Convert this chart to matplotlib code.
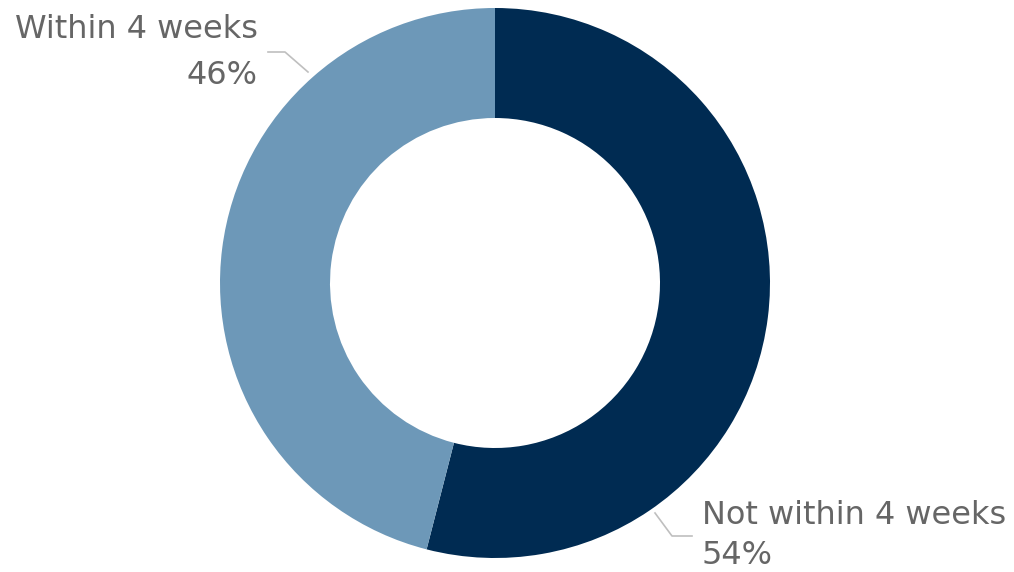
import matplotlib
matplotlib.use("Agg")
import matplotlib.pyplot as plt

categories = ["Not within 4 weeks", "Within 4 weeks"]
values = [54, 46]
colors = ["#002B52", "#6D98B8"]

W, H = 1014, 572
cx, cy, R = 495, 283, 275

fig = plt.figure(figsize=(W / 100, H / 100), dpi=100)
ax = fig.add_axes([0, 0, 1, 1])

ax.pie(values, colors=colors, startangle=90, counterclock=False,
       radius=1.0, wedgeprops=dict(width=0.4, linewidth=0))

ax.set_xlim(-cx / R, (W - cx) / R)
ax.set_ylim(-(H - cy) / R, cy / R)
ax.set_aspect("equal")
ax.axis("off")

def px(x, y):
    return (x - cx) / R, (cy - y) / R

txt_color = "#666666"
line_color = "#BFBFBF"
font = dict(family=["DejaVu Sans"], fontsize=23, color=txt_color)

# Within 4 weeks label (top-left)
ax.text(*px(258, 30), categories[1], ha="right", va="center", **font)
ax.text(*px(258, 75), f"{values[1]}%", ha="right", va="center", **font)
xs, ys = zip(px(268, 52), px(285, 52), px(308, 72))
ax.plot(xs, ys, color=line_color, lw=1.2)

# Not within 4 weeks label (bottom-right)
ax.text(*px(702, 516), categories[0], ha="left", va="center", **font)
ax.text(*px(702, 555), f"{values[0]}%", ha="left", va="center", **font)
xs, ys = zip(px(655, 513), px(672, 536), px(692, 536))
ax.plot(xs, ys, color=line_color, lw=1.2)

fig.savefig("out.png", dpi=100)
